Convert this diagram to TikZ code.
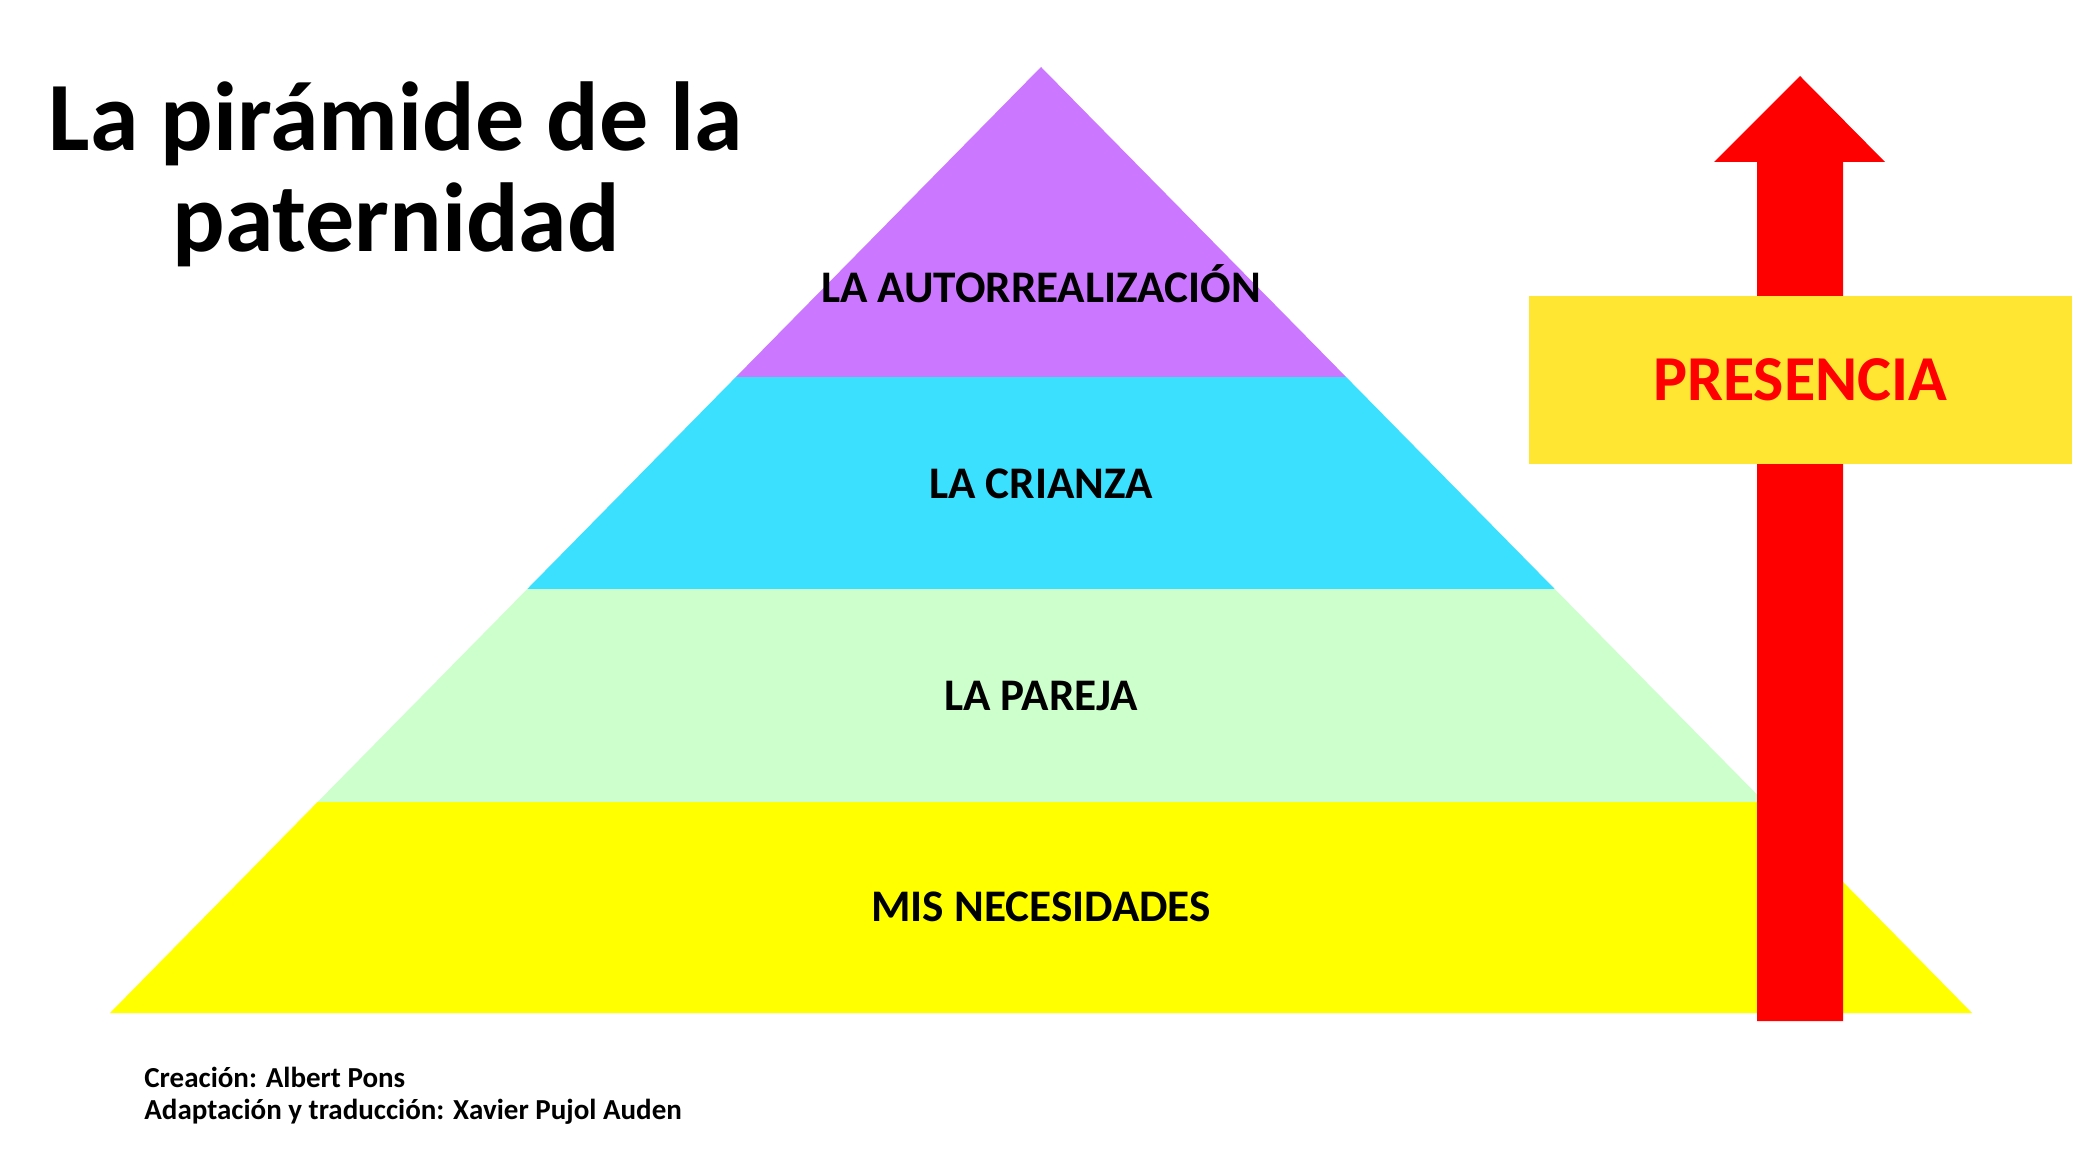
\documentclass[tikz,border=0pt]{standalone}
\usepackage{fontspec}
\setmainfont{Carlito}
\usetikzlibrary{calc}
\definecolor{lvl_top}{RGB}{204, 119, 255}
\definecolor{lvl_cri}{RGB}{59, 224, 255}
\definecolor{lvl_par}{RGB}{204, 255, 204}
\definecolor{lvl_nec}{RGB}{255, 255, 0}
\definecolor{pres_red}{RGB}{255, 0, 0}
\definecolor{pres_box}{RGB}{255, 230, 51}

\begin{document}
\begin{tikzpicture}[x=0.5pt, y=-0.5pt,
      title/.style={font=\fontsize{49}{51}\selectfont\bfseries, align=center, inner sep=0pt, anchor=base},
      level/.style={font=\fontsize{22.6}{25}\selectfont\bfseries, inner sep=0pt, anchor=base},
      presbox/.style={fill=pres_box, text=pres_red, font=\fontsize{32}{36}\selectfont\bfseries,
        minimum width=271.5pt, minimum height=84pt, inner sep=0pt, text height=20.6pt, text depth=0pt},
      credit/.style={font=\fontsize{14.5}{16}\selectfont\bfseries, align=left, inner sep=0pt, anchor=base west}]
    \useasboundingbox (0,0) rectangle (2098,1166);
    % pyramid corners and level borders
    \coordinate (apex) at (1041,67);
    \coordinate (bl) at (110,1013);
    \coordinate (br) at (1972,1013);
    \coordinate (l1) at ($(apex)!0.3277!(bl)$);
    \coordinate (r1) at ($(apex)!0.3277!(br)$);
    \coordinate (l2) at ($(apex)!0.5518!(bl)$);
    \coordinate (r2) at ($(apex)!0.5518!(br)$);
    \coordinate (l3) at ($(apex)!0.7770!(bl)$);
    \coordinate (r3) at ($(apex)!0.7770!(br)$);
    \fill[lvl_top] (apex) -- (r1) -- (l1) -- cycle;
    \fill[lvl_cri] (l1) -- (r1) -- (r2) -- (l2) -- cycle;
    \fill[lvl_par] (l2) -- (r2) -- (r3) -- (l3) -- cycle;
    \fill[lvl_nec] (l3) -- (r3) -- (br) -- (bl) -- cycle;
    \node[level] (auto) at (1041,302) {LA AUTORREALIZACIÓN};
    \node[level] (cri)  at (1041,498) {LA CRIANZA};
    \node[level] (par)  at (1041,710) {LA PAREJA};
    \node[level] (nec)  at (1041,921) {MIS NECESIDADES};
    % arrow
    \coordinate (tip) at (1800,76);
    \fill[pres_red] (1757,1021) -- (1843,1021) -- (1843,162) -- (1885,162) -- (tip)
      -- (1714,162) -- (1757,162) -- cycle;
    \node[presbox] (pres) at (1800,380) {PRESENCIA};
    % texts
    \node[title] (ttl) at (396,252) {La pirámide de la\\ paternidad};
    \node[credit] (cred) at (144,1119) {Creación: Albert Pons\\ Adaptación y traducción: Xavier Pujol Auden};
  \end{tikzpicture}
\end{document}
